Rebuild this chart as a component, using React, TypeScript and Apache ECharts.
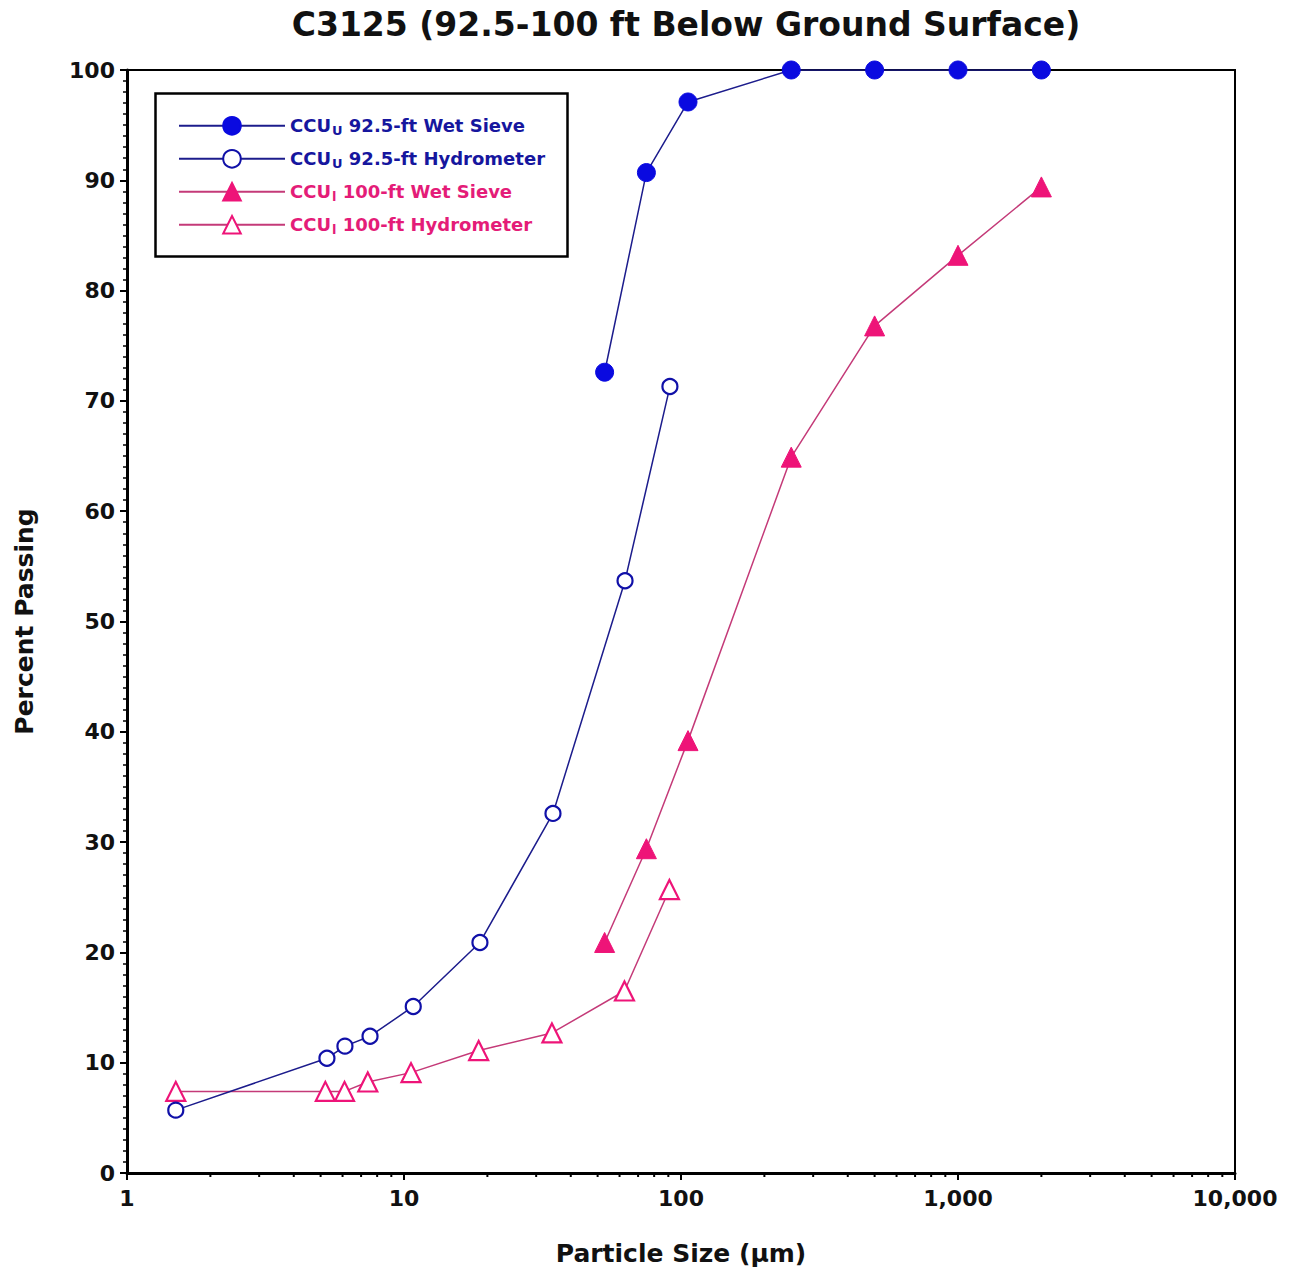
import React, { useEffect, useRef } from "react";
import * as echarts from "echarts";

const TITLE = "C3125 (92.5-100 ft Below Ground Surface)";
const X_LABEL = "Particle Size (µm)";
const Y_LABEL = "Percent Passing";

const SERIES_NAMES = [
  "CCU_U 92.5-ft Wet Sieve",
  "CCU_U 92.5-ft Hydrometer",
  "CCU_l 100-ft Wet Sieve",
  "CCU_l 100-ft Hydrometer",
];

const sieveSizes = [53, 75, 106, 250, 500, 1000, 2000];
const upperSieve = [72.6, 90.7, 97.1, 100, 100, 100, 100];
const lowerSieve = [20.9, 29.4, 39.2, 64.9, 76.8, 83.2, 89.4];

const upperHydroSize = [1.5, 5.27, 6.12, 7.54, 10.8, 18.8, 34.5, 62.8, 91.2];
const upperHydro = [5.7, 10.4, 11.5, 12.4, 15.1, 20.9, 32.6, 53.7, 71.3];

const lowerHydroSize = [1.5, 5.2, 6.1, 7.4, 10.6, 18.6, 34.2, 62.5, 90.8];
const lowerHydro = [7.4, 7.4, 7.4, 8.25, 9.1, 11.1, 12.7, 16.5, 25.7];

const X_MIN = 1;
const X_MAX = 10000;

const BLUE = "#0a0ae0";
const BLUE_LINE = "#1c1c8c";
const BLUE_TEXT = "#16169e";
const PINK = "#ee1478";
const PINK_LINE = "#c43a78";
const PINK_TEXT = "#e41c78";

const FONT = "'DejaVu Sans', sans-serif";

function pairs(xs: number[], ys: number[]) {
  return xs.map((x, i) => [x, ys[i]]);
}

export default function App() {
  const ref = useRef<HTMLDivElement>(null);

  useEffect(() => {
    if (!ref.current) return;
    const chart = echarts.init(ref.current, null, { renderer: "svg" });
    const gridLeft = 127;
    const gridRight = 55;
    const gridTop = 70;
    const gridBottom = 103;

    const option: any = {
      animation: false,
      backgroundColor: "#ffffff",
      title: {
        text: TITLE,
        left: (127 + 1235) / 2,
        textAlign: "center",
        top: 3,
        textStyle: { fontFamily: FONT, fontSize: 33, fontWeight: "bold", color: "#111" },
      },
      grid: {
        left: gridLeft,
        right: gridRight,
        top: gridTop,
        bottom: gridBottom,
        show: true,
        borderColor: "#000",
        borderWidth: 2,
        backgroundColor: "transparent",
      },
      xAxis: {
        type: "log",
        logBase: 10,
        min: X_MIN,
        max: X_MAX,
        name: X_LABEL,
        nameLocation: "middle",
        nameGap: 68,
        nameTextStyle: { fontFamily: FONT, fontSize: 25, fontWeight: "bold", color: "#111" },
        axisLine: { show: true, lineStyle: { color: "#000", width: 3 } },
        axisTick: { show: true, inside: false, length: 7, lineStyle: { color: "#000", width: 2 } },
        axisLabel: {
          fontFamily: FONT,
          fontSize: 22,
          fontWeight: "bold",
          color: "#111",
          margin: 14,
          formatter: (v: number) => Math.round(v).toLocaleString("en-US"),
        },
        splitLine: { show: false },
      },
      yAxis: {
        type: "value",
        min: 0,
        max: 100,
        interval: 10,
        name: Y_LABEL,
        nameLocation: "middle",
        nameGap: 90,
        nameTextStyle: { fontFamily: FONT, fontSize: 25, fontWeight: "bold", color: "#111" },
        axisLine: { show: true, lineStyle: { color: "#000", width: 3 } },
        axisTick: { show: true, inside: false, length: 7, lineStyle: { color: "#000", width: 2 } },
        minorTick: { show: true, splitNumber: 10, length: 4, lineStyle: { color: "#000", width: 1.5 } },
        axisLabel: {
          fontFamily: FONT,
          fontSize: 22,
          fontWeight: "bold",
          color: "#111",
          margin: 12,
        },
        splitLine: { show: false },
      },
      legend: {
        left: 178,
        top: 116,
        orient: "vertical",
        padding: 0,
        itemWidth: 106,
        itemHeight: 22,
        itemGap: 11.7,
        data: SERIES_NAMES.map((n) => ({ name: n })),
        formatter: (name: string) => {
          const isU = name.startsWith("CCU_U");
          const rest = name.slice(5);
          return isU ? `{b|CCU}{bs|U}{b|${rest}}` : `{p|CCU}{ps|l}{p|${rest}}`;
        },
        textStyle: {
          fontFamily: FONT,
          fontSize: 18,
          fontWeight: "bold",
          rich: {
            b: { fontFamily: FONT, fontSize: 18, fontWeight: "bold", color: BLUE_TEXT },
            bs: { fontFamily: FONT, fontSize: 13, fontWeight: "bold", color: BLUE_TEXT, padding: [10, 0, 0, 1] },
            p: { fontFamily: FONT, fontSize: 18, fontWeight: "bold", color: PINK_TEXT },
            ps: { fontFamily: FONT, fontSize: 13, fontWeight: "bold", color: PINK_TEXT, padding: [10, 0, 0, 1] },
          },
        },
      },
      graphic: [
        {
          type: "rect",
          left: 153,
          top: 91,
          shape: { width: 412, height: 163 },
          style: { fill: "none", stroke: "#000", lineWidth: 2.5 },
          z: 10,
        },
      ],
      series: [
        {
          name: SERIES_NAMES[0],
          type: "line",
          data: pairs(sieveSizes, upperSieve),
          symbol: "circle",
          symbolSize: 18,
          lineStyle: { color: BLUE_LINE, width: 1.5 },
          itemStyle: { color: BLUE, borderColor: BLUE, borderWidth: 1 },
          z: 5,
        },
        {
          name: SERIES_NAMES[1],
          type: "line",
          data: pairs(upperHydroSize, upperHydro),
          symbol: "circle",
          symbolSize: 15,
          lineStyle: { color: BLUE_LINE, width: 1.5 },
          itemStyle: { color: "#ffffff", borderColor: "#1010a8", borderWidth: 2.2 },
          z: 5,
        },
        {
          name: SERIES_NAMES[2],
          type: "line",
          data: pairs(sieveSizes, lowerSieve),
          symbol: "triangle",
          symbolSize: 20,
          lineStyle: { color: PINK_LINE, width: 1.5 },
          itemStyle: { color: PINK, borderColor: PINK, borderWidth: 1 },
          z: 4,
        },
        {
          name: SERIES_NAMES[3],
          type: "line",
          data: pairs(lowerHydroSize, lowerHydro),
          symbol: "triangle",
          symbolSize: 19,
          lineStyle: { color: PINK_LINE, width: 1.5 },
          itemStyle: { color: "#ffffff", borderColor: PINK, borderWidth: 2.2 },
          z: 4,
        },
      ],
    };

    chart.setOption(option);

    // Minor log ticks on x axis (2..9 x 10^k), positioned by the axis scale
    const minorTicks: any[] = [];
    const yBase = chart.convertToPixel({ yAxisIndex: 0 }, 0) as number;
    for (let d = X_MIN; d < X_MAX; d *= 10) {
      for (let m = 2; m <= 9; m++) {
        const px = chart.convertToPixel({ xAxisIndex: 0 }, d * m) as number;
        minorTicks.push({
          type: "line",
          shape: { x1: px, y1: yBase, x2: px, y2: yBase + 4 },
          style: { stroke: "#000", lineWidth: 2 },
          silent: true,
        });
      }
    }
    chart.setOption({
      graphic: [
        option.graphic[0],
        ...minorTicks,
      ],
    });

    return () => chart.dispose();
  }, []);

  return (
    <div
      ref={ref}
      style={{ position: "fixed", left: 0, top: 0, width: 1290, height: 1276 }}
    />
  );
}
